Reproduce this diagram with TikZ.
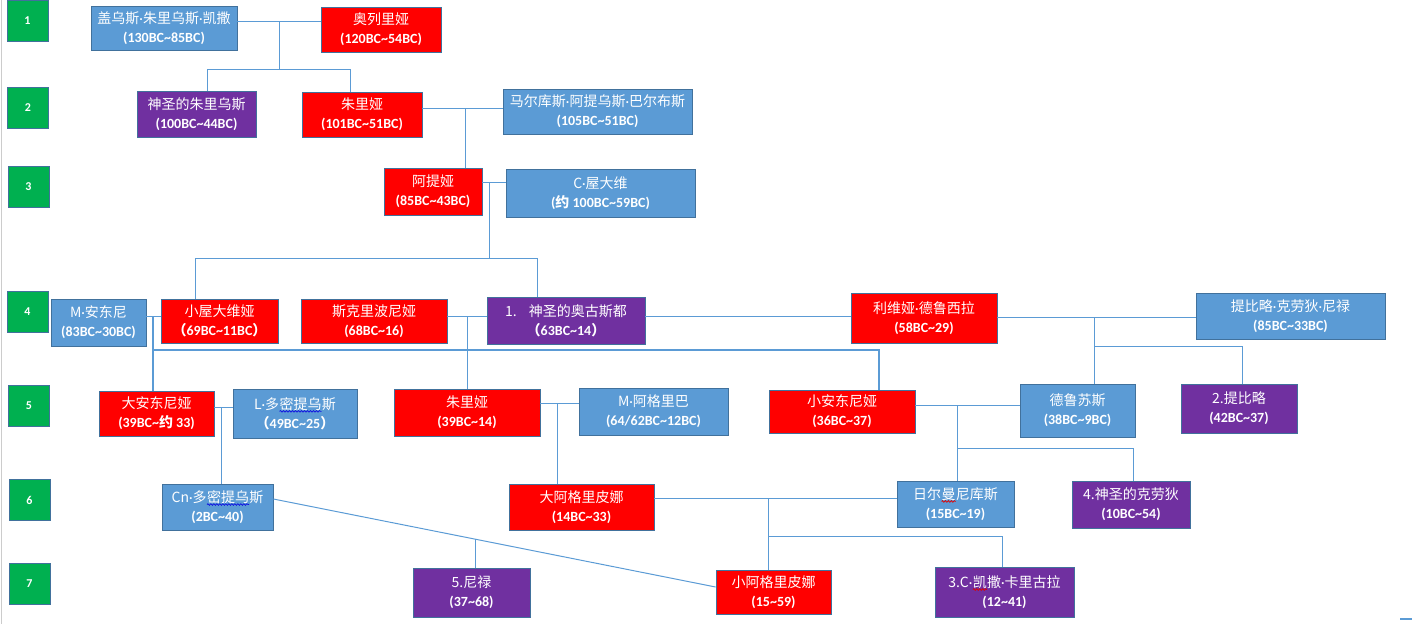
\documentclass[tikz,border=0pt]{standalone}
\usepackage{fontspec}
\usetikzlibrary{calc,decorations.pathmorphing}
\setmainfont{Carlito}
\newfontfamily\cjk{Noto Sans CJK SC}
\definecolor{boxblue}{HTML}{5B9BD5}
\definecolor{boxred}{HTML}{FF0000}
\definecolor{boxpurple}{HTML}{7030A0}
\definecolor{boxgreen}{HTML}{00B050}
\definecolor{boxline}{HTML}{41719C}
\definecolor{linkblue}{HTML}{5B9BD5}
\definecolor{wavered}{HTML}{E00000}
\definecolor{waveblue}{HTML}{1010E0}
% wavy spell-check line under a few letters
\newcommand\wavy[2]{\tikz[baseline=(w.base)]{\node[inner sep=0pt,outer sep=0pt,draw=none,fill=none,text=white,minimum width=0pt,minimum height=0pt] (w) {#2};
  \draw[draw=#1,line width=0.7pt,decorate,decoration={snake,amplitude=0.8pt,segment length=3pt}] ([yshift=-1pt]w.south west) -- ([yshift=-1pt]w.south east);}}
\newcommand\tld{\textasciitilde}
\newcommand\dt{{\rmfamily ·}}
\newcommand\pn[2]{{\cjk #1}\\{\bfseries #2}}

\begin{document}
\begin{tikzpicture}[x=1pt,y=-1pt,
    person/.style={draw=boxline,line width=0.8pt,text=white,inner sep=0pt,align=center,font={\fontsize{14}{19}\selectfont}},
    blue node/.style={person,fill=boxblue},
    red node/.style={person,fill=boxred},
    purple node/.style={person,fill=boxpurple},
    gen node/.style={draw=boxline,line width=0.8pt,fill=boxgreen,text=white,minimum width=41pt,minimum height=41pt,inner sep=0pt,font=\bfseries\fontsize{12}{14}\selectfont},
    link/.style={draw=linkblue,line width=1pt},
    thick link/.style={link,line width=2pt}]
  \useasboundingbox (0,0) rectangle (1412,624);
  \draw[black!20,line width=1pt] (1,0) -- (1,624);
  \draw[linkblue,line width=1.5pt] (1400,619) -- (1412,619);

  % generations
  \node[gen node] (g1) at (27.5,21) {1};
  \node[gen node] (g2) at (28,107.5) {2};
  \node[gen node] (g3) at (28.5,186.5) {3};
  \node[gen node] (g4) at (27.5,312) {4};
  \node[gen node] (g5) at (29,405.5) {5};
  \node[gen node] (g6) at (29.5,500) {6};
  \node[gen node] (g7) at (29.5,583.5) {7};

  % people
  \node[blue node,minimum width=146pt,minimum height=44pt] (caesar) at (164,28) {\pn{盖乌斯\dt 朱里乌斯\dt 凯撒}{(130BC\tld 85BC)}};
  \node[red node,minimum width=120pt,minimum height=45pt] (aurelia) at (381,29.5) {\pn{奥列里娅}{(120BC\tld 54BC)}};
  \node[purple node,minimum width=119pt,minimum height=46pt] (julius) at (196.5,114) {\pn{神圣的朱里乌斯}{(100BC\tld 44BC)}};
  \node[red node,minimum width=120pt,minimum height=45pt] (julia1) at (362,114.5) {\pn{朱里娅}{(101BC\tld 51BC)}};
  \node[blue node,minimum width=189pt,minimum height=45pt] (balbus) at (597.5,111.5) {\pn{马尔库斯\dt 阿提乌斯\dt 巴尔布斯}{(105BC\tld 51BC)}};
  \node[red node,minimum width=98pt,minimum height=47pt] (atia) at (433,191.5) {\pn{阿提娅}{(85BC\tld 43BC)}};
  \node[blue node,minimum width=189pt,minimum height=48pt] (octavius) at (600.5,193) {\pn{C\dt 屋大维}{({\cjk 约} 100BC\tld 59BC)}};
  \node[blue node,minimum width=95pt,minimum height=47pt] (antony) at (98.5,322.5) {\pn{M\dt 安东尼}{(83BC\tld 30BC)}};
  \node[red node,minimum width=117pt,minimum height=44pt] (octavia) at (219.5,321) {\pn{小屋大维娅}{{\cjk （}69BC\tld 11BC{\cjk ）}}};
  \node[red node,minimum width=146pt,minimum height=44pt] (scribonia) at (374,321) {\pn{斯克里波尼娅}{(68BC\tld 16)}};
  \node[purple node,minimum width=158pt,minimum height=47pt] (augustus) at (566,320.5) {\pn{1.\hspace{12pt}神圣的奥古斯都}{{\cjk （}63BC\tld 14{\cjk ）}}};
  \node[red node,minimum width=146pt,minimum height=50pt] (livia) at (924,318) {\pn{利维娅\dt 德鲁西拉}{(58BC\tld 29)}};
  \node[blue node,minimum width=189pt,minimum height=46pt] (tibnero) at (1290.5,316) {\pn{提比略\dt 克劳狄\dt 尼禄}{(85BC\tld 33BC)}};
  \node[red node,minimum width=115pt,minimum height=45pt] (antoniaM) at (156.5,413.5) {\pn{大安东尼娅}{(39BC\tld{\cjk 约} 33)}};
  \node[blue node,minimum width=124pt,minimum height=49pt] (ldomitius) at (295,413.5) {\pn{L\dt 多\wavy{waveblue}{密提乌}斯}{{\cjk （}49BC\tld 25{\cjk ）}}};
  \node[red node,minimum width=146pt,minimum height=47pt] (julia2) at (467,412.5) {\pn{朱里娅}{(39BC\tld 14)}};
  \node[blue node,minimum width=149pt,minimum height=47pt] (agrippa) at (653.5,411.5) {\pn{M\dt 阿格里巴}{(64/62BC\tld 12BC)}};
  \node[red node,minimum width=146pt,minimum height=43pt] (antoniam) at (842,411.5) {\pn{小安东尼娅}{(36BC\tld 37)}};
  \node[blue node,minimum width=115pt,minimum height=53pt] (drusus) at (1077.5,410.5) {\pn{德鲁苏斯}{(38BC\tld 9BC)}};
  \node[purple node,minimum width=116pt,minimum height=49pt] (tiberius) at (1239,408.5) {\pn{2.提比略}{(42BC\tld 37)}};
  \node[blue node,minimum width=111pt,minimum height=46pt] (cndomitius) at (217.5,507) {\pn{Cn\dt 多\wavy{waveblue}{密提乌}斯}{(2BC\tld 40)}};
  \node[red node,minimum width=145pt,minimum height=46pt] (agrippinaM) at (581.5,507) {\pn{大阿格里皮娜}{(14BC\tld 33)}};
  \node[blue node,minimum width=117pt,minimum height=46pt] (germanicus) at (955.5,504) {\pn{日尔\wavy{wavered}{曼}尼库斯}{(15BC\tld 19)}};
  \node[purple node,minimum width=118pt,minimum height=47pt] (claudius) at (1131,504.5) {\pn{4.神圣的克劳狄}{(10BC\tld 54)}};
  \node[purple node,minimum width=117pt,minimum height=49pt] (nero) at (471.5,592.5) {\pn{5.尼禄}{(37\tld 68)}};
  \node[red node,minimum width=115pt,minimum height=44pt] (agrippinam) at (773.5,592) {\pn{小阿格里皮娜}{(15\tld 59)}};
  \node[purple node,minimum width=139pt,minimum height=50pt] (caligula) at (1004.5,592) {\pn{3.C\dt\wavy{wavered}{凯}撒\dt 卡里古拉}{(12\tld 41)}};

  % generation 1 -> 2
  \coordinate (m1) at (279,21);
  \coordinate (k1a) at (207,69);
  \coordinate (k1b) at (350,69);
  \draw[link] (caesar.east |- m1) -- (aurelia.west |- m1);
  \draw[link] (m1) -- (m1 |- k1a);
  \draw[link] (k1a |- julius.north) -- (k1a) -- (k1b) -- (k1b |- julia1.north);

  % generation 2 -> 3
  \coordinate (m2) at (465,108);
  \draw[link] (julia1.east |- m2) -- (balbus.west |- m2);
  \draw[link] (m2) -- (m2 |- atia.north);

  % generation 3 -> 4
  \coordinate (m3) at (489,182);
  \coordinate (k3a) at (195,258);
  \coordinate (k3b) at (537,258);
  \draw[link] (atia.east |- m3) -- (octavius.west |- m3);
  \draw[link] (m3) -- (m3 |- k3a);
  \draw[link] (k3a |- octavia.north) -- (k3a) -- (k3b) -- (k3b |- augustus.north);

  % generation 4 -> 5
  \coordinate (m4a) at (153,316);
  \coordinate (k4a) at (153,350);
  \coordinate (k4b) at (879,350);
  \draw[link] (antony.east |- m4a) -- (octavia.west |- m4a);
  \draw[thick link] (m4a) -- (m4a |- antoniaM.north);
  \draw[thick link] (k4a) -- (k4b) -- (k4b |- antoniam.north);

  \coordinate (m4b) at (467,316);
  \draw[link] (scribonia.east |- m4b) -- (augustus.west |- m4b);
  \draw[link] (m4b) -- (m4b |- julia2.north);
  \draw[link] (augustus.east |- m4b) -- (livia.west |- m4b);

  \coordinate (m4c) at (1094,317);
  \coordinate (k4c) at (1094,346);
  \coordinate (k4d) at (1242,346);
  \draw[link] (livia.east |- m4c) -- (tibnero.west |- m4c);
  \draw[link] (m4c) -- (m4c |- drusus.north);
  \draw[link] (k4c) -- (k4d) -- (k4d |- tiberius.north);

  % generation 5 -> 6
  \coordinate (m5a) at (221,407);
  \draw[link] (antoniaM.east |- m5a) -- (ldomitius.west |- m5a);
  \draw[link] (m5a) -- (m5a |- cndomitius.north);

  \coordinate (m5b) at (557,403);
  \draw[link] (julia2.east |- m5b) -- (agrippa.west |- m5b);
  \draw[link] (m5b) -- (m5b |- agrippinaM.north);

  \coordinate (m5c) at (957,405);
  \coordinate (k5c) at (957,448);
  \coordinate (k5d) at (1133,448);
  \draw[link] (antoniam.east |- m5c) -- (drusus.west |- m5c);
  \draw[link] (m5c) -- (m5c |- germanicus.north);
  \draw[link] (k5c) -- (k5d) -- (k5d |- claudius.north);

  % generation 6 -> 7
  \coordinate (m6) at (768,498);
  \coordinate (k6a) at (768,536);
  \coordinate (k6b) at (1002,536);
  \draw[link] (agrippinaM.east |- m6) -- (germanicus.west |- m6);
  \draw[link] (m6) -- (m6 |- agrippinam.north);
  \draw[link] (k6a) -- (k6b) -- (k6b |- caligula.north);

  \coordinate (d1) at (cndomitius.east |- 0,499);
  \coordinate (d2) at (agrippinam.west |- 0,587);
  \coordinate (nj) at ($(d1)!0.456!(d2)$);
  \draw[link] (d1) -- (d2);
  \draw[link] (nero.north -| nj) -- (nj);
\end{tikzpicture}
\end{document}
